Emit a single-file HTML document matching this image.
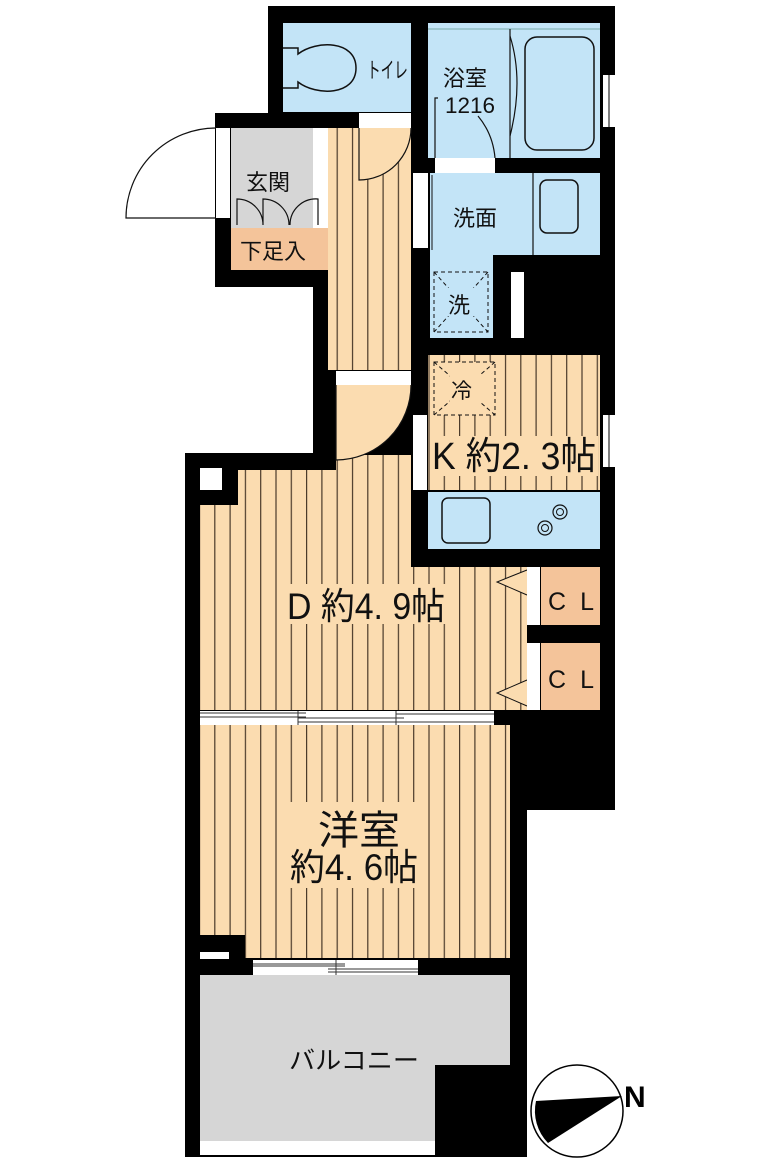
<!DOCTYPE html>
<html><head><meta charset="utf-8"><style>
html,body{margin:0;padding:0;background:#fff;width:774px;height:1164px;overflow:hidden}
svg{display:block}
text{font-family:"Liberation Sans","Noto Sans CJK JP",sans-serif;fill:#111}
</style></head><body>
<svg width="774" height="1164" viewBox="0 0 774 1164" xmlns="http://www.w3.org/2000/svg">
<defs>
<pattern id="wood" patternUnits="userSpaceOnUse" width="15.3" height="20" x="0">
<rect width="15.3" height="20" fill="#fbdcb0"/>
<rect x="0" width="1.2" height="20" fill="#4a3a2a"/>
</pattern>
</defs>
<rect x="268" y="6" width="347" height="125" fill="#000"/>
<rect x="215" y="113" width="115" height="174" fill="#000"/>
<rect x="313" y="113" width="302" height="360" fill="#000"/>
<rect x="185" y="453" width="430" height="357" fill="#000"/>
<rect x="185" y="800" width="342" height="357" fill="#000"/>
<rect x="200" y="287" width="113" height="166" fill="#fff"/>
<!-- toilet -->
<rect x="283" y="23" width="128" height="89" fill="#c3e4f7"/>
<path d="M283 48 h15 v6 c18 -14 58 -14 58 14 c0 28 -40 28 -58 14 v6 h-15" fill="none" stroke="#111" stroke-width="1.5"/>
<text transform="translate(367,78) scale(0.62,1)" font-size="22">トイレ</text>
<rect x="359" y="113" width="52" height="15" fill="#fff"/>
<!-- bath -->
<rect x="428" y="23" width="172" height="135" fill="#c3e4f7"/>
<line x1="428" y1="29" x2="600" y2="29" stroke="#7aa" stroke-width="1"/>
<line x1="510" y1="29" x2="510" y2="158" stroke="#111" stroke-width="1.2"/>
<path d="M510 36 q14 45 0 100" fill="none" stroke="#111" stroke-width="1.2"/>
<rect x="525" y="37" width="69" height="113" rx="12" fill="none" stroke="#111" stroke-width="1.5"/>
<text x="443" y="86" font-size="22">浴室</text>
<text x="445" y="113" font-size="22" textLength="50" lengthAdjust="spacingAndGlyphs">1216</text>
<path d="M435 158 v-60 h3 M478 116 q15 18 17 42" fill="none" stroke="#111" stroke-width="1.2"/>
<rect x="603" y="75" width="12" height="52" fill="#fff"/>
<line x1="609" y1="75" x2="609" y2="127" stroke="#000" stroke-width="1"/>
<rect x="435" y="158" width="60" height="15" fill="#fff"/>
<!-- genkan -->
<rect x="231" y="128" width="82" height="100" fill="#d6d6d6"/>
<rect x="313" y="128" width="15" height="100" fill="#fff"/>
<rect x="216" y="128" width="14" height="90" fill="#fff"/>
<path d="M216 128 A90 90 0 0 0 126 218 L216 218" fill="none" stroke="#111" stroke-width="1.2"/>
<text x="246" y="190" font-size="22">玄関</text>
<path d="M237 225 v-26 a26 26 0 0 1 26 26 M263 225 v-26 a26 26 0 0 1 26 26 M318 225 v-26 a26 26 0 0 0 -28 26" fill="none" stroke="#111" stroke-width="1.2"/>
<rect x="231" y="228" width="97" height="42" fill="#f4c49a"/>
<text x="240" y="259" font-size="22">下足入</text>
<!-- hallway -->
<rect x="328" y="128" width="83" height="242" fill="url(#wood)"/>
<path d="M359 128 v52 a52 52 0 0 0 52 -52" fill="#fbdcb0" stroke="#111" stroke-width="1.2"/>
<rect x="336" y="371" width="75" height="14" fill="#fff"/>
<!-- senmen -->
<rect x="430" y="173" width="170" height="82" fill="#c3e4f7"/>
<rect x="430" y="250" width="63" height="88" fill="#c3e4f7"/>
<line x1="533" y1="173" x2="533" y2="255" stroke="#111" stroke-width="1.2"/>
<rect x="540" y="180" width="38" height="53" rx="7" fill="none" stroke="#111" stroke-width="1.5"/>
<text x="453" y="226" font-size="22">洗面</text>
<rect x="434" y="272" width="54" height="60" fill="none" stroke="#111" stroke-dasharray="4,3"/>
<path d="M434 272 L488 332 M488 272 L434 332" stroke="#111" stroke-dasharray="4,3"/>
<rect x="447" y="288" width="30" height="28" fill="#c3e4f7"/>
<text x="448" y="313" font-size="22">洗</text>
<line x1="432" y1="175" x2="432" y2="250" stroke="#111"/>
<rect x="413" y="173" width="15" height="75" fill="#fff"/>
<rect x="511" y="272" width="13" height="66" fill="#fff"/>
<!-- kitchen -->
<rect x="428" y="355" width="172" height="135" fill="url(#wood)"/>
<rect x="434" y="362" width="61" height="53" fill="#fbdcb0" stroke="#111" stroke-dasharray="4,3"/>
<path d="M434 362 L495 415 M495 362 L434 415" stroke="#111" stroke-dasharray="4,3"/>
<rect x="450" y="374" width="30" height="28" fill="#fbdcb0"/>
<text x="451" y="398" font-size="21">冷</text>
<rect x="432" y="436" width="166" height="40" fill="#fbdcb0"/>
<text x="432" y="469" font-size="38" textLength="164" lengthAdjust="spacingAndGlyphs">K 約2. 3帖</text>
<rect x="413" y="415" width="14" height="75" fill="#fff"/>
<rect x="603" y="415" width="12" height="52" fill="#fff"/>
<line x1="609" y1="415" x2="609" y2="467" stroke="#000"/>
<rect x="428" y="492" width="172" height="57" fill="#c3e4f7"/>
<rect x="442" y="498" width="48" height="45" rx="6" fill="none" stroke="#111" stroke-width="1.5"/>
<circle cx="560" cy="512" r="7" fill="none" stroke="#111" stroke-width="1.2"/><circle cx="560" cy="512" r="3.5" fill="none" stroke="#111"/>
<circle cx="545" cy="528" r="7" fill="none" stroke="#111" stroke-width="1.2"/><circle cx="545" cy="528" r="3.5" fill="none" stroke="#111"/>
<!-- dining -->
<path d="M238 470 H336 V455 H411 V567 H527 V710 H200 V505 H238 Z" fill="url(#wood)"/>
<rect x="200" y="468" width="22" height="22" fill="#fff"/>
<path d="M336 385 v75 a75 75 0 0 0 75 -75" fill="#fbdcb0" stroke="#111" stroke-width="1.2"/>
<path d="M527 570 L497 582 L527 595 M527 680 L497 693 L527 706" fill="#fbdcb0" stroke="#111" stroke-width="1"/>
<rect x="286" y="584" width="162" height="40" fill="#fbdcb0"/>
<text x="287" y="619" font-size="37" textLength="158" lengthAdjust="spacingAndGlyphs">D 約4. 9帖</text>
<rect x="527" y="567" width="13" height="58" fill="#fff"/>
<rect x="541" y="567" width="59" height="58" fill="#f4c49a"/>
<rect x="527" y="643" width="13" height="67" fill="#fff"/>
<rect x="541" y="643" width="59" height="67" fill="#f4c49a"/>
<text x="548" y="610" font-size="25" textLength="46" lengthAdjust="spacing">C L</text>
<text x="548" y="688" font-size="25" textLength="46" lengthAdjust="spacing">C L</text>
<!-- sliding door -->
<rect x="200" y="711" width="294" height="14" fill="#fff"/>
<path d="M200 713 H306 M200 717 H306 M298 718 H404 M298 722 H494 M396 714 H494 M298 711 V725 M396 711 V725" stroke="#333" stroke-width="1"/>
<!-- western room -->
<path d="M200 725 H510 V958 H245 V935 H200 Z" fill="url(#wood)"/>
<rect x="288" y="802" width="134" height="86" fill="#fbdcb0"/>
<text x="318" y="844" font-size="40" textLength="82" lengthAdjust="spacingAndGlyphs">洋室</text>
<text x="290" y="880" font-size="37" textLength="128" lengthAdjust="spacingAndGlyphs">約4. 6帖</text>
<rect x="200" y="952" width="29" height="7" fill="#fff"/>
<rect x="253" y="960" width="165" height="15" fill="#fff"/>
<path d="M253 964 H345 M253 966 H345 M328 969 H418 M328 972 H418 M336 960 V975" stroke="#333" stroke-width="1"/>
<!-- balcony -->
<path d="M200 975 H510 V1065 H435 V1141 H200 Z" fill="#d6d6d6"/>
<rect x="200" y="1141" width="235" height="14" fill="#fff"/>
<text x="289" y="1069" font-size="25" textLength="130" lengthAdjust="spacingAndGlyphs">バルコニー</text>
<!-- compass -->
<circle cx="577" cy="1111" r="46" fill="#fff" stroke="#000" stroke-width="1.5"/>
<path d="M622 1096 L536 1101 A46 46 0 0 0 548 1143 Z" fill="#000"/>
<text x="624" y="1107" font-size="30" font-weight="bold" style="fill:#000">N</text>
</svg>
</body></html>
